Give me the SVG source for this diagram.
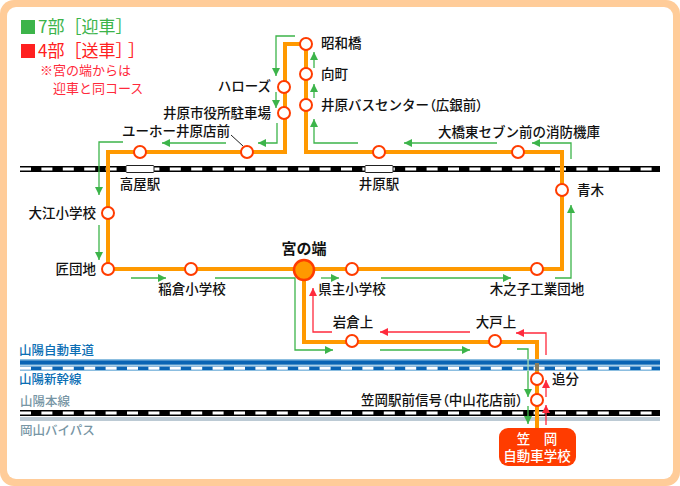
<svg xmlns="http://www.w3.org/2000/svg" width="680" height="486" viewBox="0 0 680 486">
<style>
text{font-family:"Noto Sans CJK JP","Noto Sans",sans-serif;font-size:13.5px;fill:#111;font-weight:500}
.p{font-feature-settings:"palt" 1}
.e{text-anchor:end}.m{text-anchor:middle}
.r{fill:none;stroke:#FF9900;stroke-width:4}
.g{fill:none;stroke:#3CB44A;stroke-width:1.3;marker-end:url(#ga)}
.d{fill:none;stroke:#FF2A3C;stroke-width:1.3;marker-end:url(#ra)}
.n{fill:#fff;stroke:#FF3C00;stroke-width:2}
.b{font-size:12.5px;fill:#0A6EB4}
.s{font-size:12.5px;fill:#7896A5}
</style>
<defs>
<marker id="ga" markerUnits="userSpaceOnUse" viewBox="0 0 8 8" refX="8" refY="4" markerWidth="8" markerHeight="8" orient="auto"><path d="M0 0L8 4L0 8Z" fill="#3CB44A"/></marker>
<marker id="ra" markerUnits="userSpaceOnUse" viewBox="0 0 8 8" refX="8" refY="4" markerWidth="8" markerHeight="8" orient="auto"><path d="M0 0L8 4L0 8Z" fill="#FF2A3C"/></marker>
</defs>
<rect width="680" height="486" fill="#fff"/>
<rect x="0" y="0" width="680" height="486" rx="14" fill="#FFCC99"/>
<rect x="7" y="7" width="666" height="472" rx="9" fill="#fff"/>
<g id="rail-lines">
<rect x="20" y="166" width="640" height="6" fill="#000"/>
<line x1="20" y1="169" x2="660" y2="169" stroke="#fff" stroke-width="3" stroke-dasharray="11 10.4"/>
<rect x="20" y="410" width="640" height="6" fill="#000"/>
<line x1="20" y1="413" x2="660" y2="413" stroke="#fff" stroke-width="3" stroke-dasharray="11 10.4"/>
<rect x="20" y="417" width="640" height="4" fill="#BCCAD4"/>
<rect x="126" y="165.500" width="28" height="7" rx="1" fill="#fff" stroke="#222"/>
<rect x="365" y="165.500" width="28" height="7" rx="1" fill="#fff" stroke="#222"/>
</g>
<g id="connectors">
<path class="r" d="M306 44H285V152H108V269H304"/>
<path class="r" d="M306 44V152H562V269H304"/>
<path class="r" d="M304 270V342H537V430"/>
<path class="g" d="M295 36H276V76"/>
<path class="g" d="M276 92V108"/>
<path class="g" d="M277 123V143H258"/>
<path class="g" d="M226 143H162"/>
<path class="g" d="M123 142H99V195"/>
<path class="g" d="M99 225V260"/>
<path class="g" d="M131 278H166"/>
<path class="g" d="M215 278H295V350H333"/>
<path class="g" d="M321 278H339"/>
<path class="g" d="M381 278H511"/>
<path class="g" d="M555 278H571V205"/>
<path class="g" d="M571 159V143H532"/>
<path class="g" d="M497 143H404"/>
<path class="g" d="M358 143H314V119"/>
<path class="g" d="M314 98V84"/>
<path class="g" d="M314 68V52"/>
<path class="g" d="M380 350H470"/>
<path class="g" d="M517 349H528V397"/>
<path class="g" d="M528 406V424"/>
<path class="d" d="M546 425V405"/>
<path class="d" d="M546 397V380"/>
<path class="d" d="M546 355V333H516"/>
<path class="d" d="M470 332H380"/>
<path class="d" d="M332 332H313V288"/>
<line x1="231" y1="135" x2="243" y2="146" stroke="#222" stroke-width="1"/>
</g>
<g id="highway">
<rect x="20" y="359" width="640" height="12" fill="#fff"/>
<rect x="20" y="359" width="640" height="6.500" fill="#8CBEE0"/>
<rect x="20" y="360.500" width="640" height="4" fill="#0A64B4"/>
<rect x="20" y="365.500" width="640" height="1" fill="#8CBEE0"/>
<rect x="20" y="366.500" width="640" height="3.500" fill="#0A64B4"/>
<line x1="20" y1="368.200" x2="660" y2="368.200" stroke="#fff" stroke-width="3" stroke-dasharray="11 10.4"/>
<rect x="20" y="370" width="640" height="1" fill="#8CBEE0"/>
<rect x="527.400" y="359" width="1.300" height="12" fill="#A8DDB0"/>
<rect x="535" y="363" width="4" height="8" fill="#8C7D5A"/>
</g>
<g id="legend">
<rect x="21" y="20" width="14" height="14" fill="#3CB44A"/>
<text x="38" y="33" style="font-size:17px;fill:#3CB44A;font-weight:400">7部［迎車］</text>
<rect x="21" y="44" width="14" height="14" fill="#FF2020"/>
<text x="38" y="57" style="font-size:17px;fill:#FF2020;font-weight:400">4部［送車］<tspan dx="4">］</tspan></text>
<text x="40" y="75" style="font-size:13px;fill:#FF2A3C;font-weight:400">※宮の端からは</text>
<text x="53" y="93" style="font-size:13px;fill:#FF2A3C;font-weight:400">迎車と同コース</text>
</g>
<g id="n-showa"><circle class="n" cx="306" cy="44" r="6"/><text x="321" y="48">昭和橋</text></g>
<g id="n-mukai"><circle class="n" cx="306" cy="74" r="6"/><text x="321" y="79">向町</text></g>
<g id="n-ibara-bus"><circle class="n" cx="306" cy="105" r="6"/><text x="321" y="110">井原バスセンター<tspan class="p">（</tspan>広銀前<tspan class="p">）</tspan></text></g>
<g id="n-hallows"><circle class="n" cx="284" cy="87" r="6"/><text class="e" x="271" y="91">ハローズ</text></g>
<g id="n-shiyakusho"><circle class="n" cx="284" cy="113" r="6"/><text class="e" x="271" y="118">井原市役所駐車場</text></g>
<g id="n-yuho-mae"><circle class="n" cx="140" cy="152" r="6"/></g>
<g id="n-yuho"><circle class="n" cx="247" cy="152" r="6"/><text class="e" x="230" y="136">ユーホー井原店前</text></g>
<g id="n-ibara-st"><circle class="n" cx="379" cy="152" r="6"/></g>
<g id="n-ohashi"><circle class="n" cx="518" cy="152" r="6"/><text class="e" x="600" y="137">大橋東セブン前の消防機庫</text></g>
<g id="n-aoki"><circle class="n" cx="562" cy="190" r="6"/><text x="577" y="195">青木</text></g>
<g id="n-oe"><circle class="n" cx="108" cy="213" r="6"/><text class="e" x="96" y="218">大江小学校</text></g>
<g id="n-takumi"><circle class="n" cx="108" cy="269" r="6"/><text class="e" x="96" y="274">匠団地</text></g>
<g id="n-inakura"><circle class="n" cx="191" cy="269" r="6"/><text class="m" x="192" y="294">稲倉小学校</text></g>
<g id="n-miyanohashi"><circle cx="304" cy="270" r="10" fill="#FF9900" stroke="#FF3C00" stroke-width="2.500"/><text class="m" x="304" y="254" style="font-size:15px;font-weight:700">宮の端</text></g>
<g id="n-kenshu"><circle class="n" cx="352" cy="269" r="6"/><text class="m" x="352" y="294">県主小学校</text></g>
<g id="n-kinoshi"><circle class="n" cx="537" cy="269" r="6"/><text class="m" x="537" y="294">木之子工業団地</text></g>
<g id="n-iwakura"><circle class="n" cx="352" cy="341" r="6"/><text class="m" x="353" y="327">岩倉上</text></g>
<g id="n-oto"><circle class="n" cx="495" cy="341" r="6"/><text class="m" x="496" y="327">大戸上</text></g>
<g id="n-oiwake"><circle class="n" cx="537" cy="379" r="6"/><text x="552" y="384">追分</text></g>
<g id="n-kasaoka-st"><circle class="n" cx="537" cy="400" r="6"/><text class="e" x="523" y="405">笠岡駅前信号<tspan class="p">（</tspan>中山花店前<tspan class="p">）</tspan></text></g>
<g id="n-school"><rect x="499" y="428" width="77" height="38" rx="9" fill="#FF3C00"/><text class="m" x="537" y="444" style="fill:#fff">笠　岡</text><text class="m" x="537" y="461" style="fill:#fff">自動車学校</text></g>
<g id="labels">
<text class="m" x="140" y="189">高屋駅</text>
<text class="m" x="379" y="189">井原駅</text>
<text class="b" x="19" y="355">山陽自動車道</text>
<text class="b" x="19" y="384">山陽新幹線</text>
<text class="s" x="20" y="406">山陽本線</text>
<text class="s" x="20" y="435">岡山バイパス</text>
</g>
</svg>
